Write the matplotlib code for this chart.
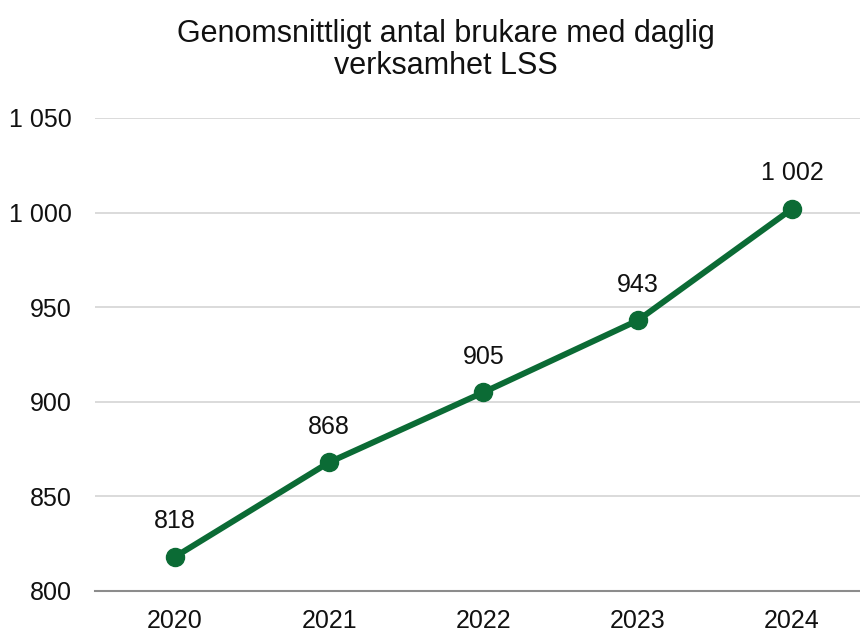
import matplotlib.pyplot as plt
from matplotlib.ticker import FuncFormatter

# ---- DATA ----
years = ["2020", "2021", "2022", "2023", "2024"]
users = [818, 868, 905, 943, 1002]
labels = ["818", "868", "905", "943", "1 002"]

green = "#0b6b35"

plt.rcParams['font.family'] = ['Liberation Sans', 'DejaVu Sans']

fig = plt.figure(figsize=(8.6, 6.33), dpi=100)
ax = fig.add_axes([0.110, 0.0664, 0.89, 0.7472])

x = list(range(len(years)))
ax.plot(x, users, color=green, linewidth=4.3, marker='o', markersize=13,
        solid_capstyle='round', zorder=3)
for xi, yi, lab in zip(x, users, labels):
    ax.annotate(lab, (xi, yi), xytext=(0, 17), textcoords='offset points',
                ha='center', va='bottom', fontsize=18, color='#111111')

ax.set_ylim(800, 1050)
ax.set_yticks(range(800, 1051, 50))
ax.yaxis.set_major_formatter(FuncFormatter(lambda v, p: f"{int(v):,}".replace(",", " ")))
ax.set_xlim(-0.52, 4.44)
ax.set_xticks(x)
ax.set_xticklabels(years)

ax.grid(axis='y', color='#d4d4d4', linewidth=1.2)
ax.set_axisbelow(True)
for s in ['top', 'right', 'left']:
    ax.spines[s].set_visible(False)
ax.spines['bottom'].set_color('#8c8c8c')
ax.spines['bottom'].set_linewidth(1.5)
ax.tick_params(axis='both', length=0, labelsize=18, colors='#111111')
ax.tick_params(axis='y', pad=16.5)
ax.tick_params(axis='x', pad=13)

fig.text(0.519, 0.921, "Genomsnittligt antal brukare med daglig\nverksamhet LSS",
         ha='center', va='center', fontsize=22, linespacing=1.08, color='#111111')

plt.savefig("out.png", dpi=100)
